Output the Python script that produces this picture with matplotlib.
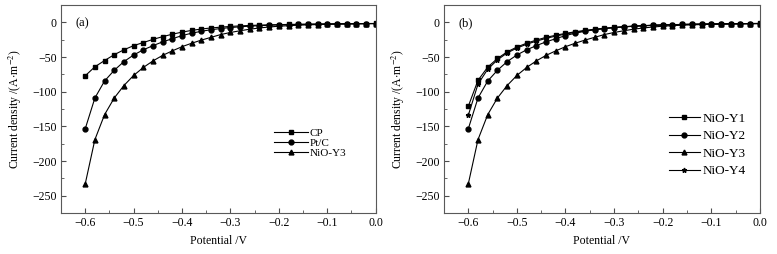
import numpy as np
import matplotlib.pyplot as plt

plt.rcParams['font.family'] = ['Liberation Serif', 'DejaVu Serif']
plt.rcParams['mathtext.fontset'] = 'stix'

# potential sweep, -0.60 V to 0.00 V in 0.02 V steps
potential = np.round(np.arange(-0.60, 0.001, 0.02), 2)

cp = [-77, -64, -55, -46.5, -39.5, -33.5, -29, -24.5, -20.5, -17, -14, -11.5,
      -9.5, -8, -6.8, -5.8, -5, -4.4, -3.9, -3.5, -3.2, -2.9, -2.7, -2.5,
      -2.3, -2.1, -2.0, -1.9, -1.8, -1.6, -1.5]
pt_c = [-153.5, -109, -84.5, -69, -56.5, -47, -39.5, -33.5, -28, -23.5, -19,
        -15.5, -12.8, -10.5, -8.8, -7.4, -6.3, -5.4, -4.7, -4.1, -3.6, -3.3,
        -3.0, -2.8, -2.6, -2.4, -2.2, -2.0, -1.9, -1.7, -1.6]
nio_y3 = [-233, -169, -133, -109, -91, -76.5, -65, -55.5, -47.5, -41, -35, -30,
          -25.5, -21.5, -17.5, -14.5, -12, -9.8, -8, -6.6, -5.5, -4.7, -4,
          -3.5, -3.1, -2.8, -2.5, -2.3, -2.1, -1.9, -1.7]
nio_y1 = [-121, -83.5, -64.5, -52, -42.5, -35.5, -30, -25.5, -21.5, -18.5,
          -15.8, -13.5, -11.5, -9.8, -8.4, -7.2, -6.2, -5.4, -4.7, -4.1, -3.6,
          -3.2, -2.9, -2.6, -2.4, -2.2, -2.0, -1.9, -1.8, -1.6, -1.5]
nio_y2 = pt_c
nio_y4 = [-134, -89, -67.5, -54, -44, -37, -31.5, -27, -23, -19.7, -16.8,
          -14.3, -12.2, -10.4, -8.9, -7.6, -6.5, -5.6, -4.9, -4.3, -3.8, -3.4,
          -3.0, -2.7, -2.5, -2.3, -2.1, -1.9, -1.8, -1.6, -1.5]

xticks = [-0.6, -0.5, -0.4, -0.3, -0.2, -0.1, 0.0]
yticks = [0, -50, -100, -150, -200, -250]


def style_axes(ax, tag):
    ax.set_xlim(-0.65, 0.0)
    ax.set_ylim(-275, 25)
    ax.set_xticks(xticks)
    ax.set_xticklabels(['\u22120.6', '\u22120.5', '\u22120.4', '\u22120.3',
                        '\u22120.2', '\u22120.1', '0.0'])
    ax.set_xticks(np.arange(-0.65, 0.0, 0.05), minor=True)
    ax.set_yticks(yticks)
    ax.set_yticklabels(['0', '\u221250', '\u2212100', '\u2212150',
                        '\u2212200', '\u2212250'])
    ax.set_yticks(np.arange(-275, 25, 25), minor=True)
    ax.tick_params(which='both', direction='in', labelsize=8.5,
                   color='0.3', pad=3)
    ax.tick_params(which='major', length=3.5)
    ax.tick_params(which='minor', length=2)
    for s in ax.spines.values():
        s.set_color('0.35')
        s.set_linewidth(0.8)
    ax.set_xlabel('Potential /V', fontsize=8.5, labelpad=4)
    ax.set_ylabel('Current density /(A$\\cdot$m$^{-2}$)', fontsize=8.5,
                  labelpad=6)
    ax.text(0.045, 0.9, tag, transform=ax.transAxes, fontsize=9)


line_kw = dict(color='black', linewidth=0.8, markersize=3.5)

fig = plt.figure(figsize=(7.77, 2.54), dpi=100)
ax1 = fig.add_axes([0.0785, 0.161, 0.405, 0.819])
ax2 = fig.add_axes([0.5714, 0.161, 0.4066, 0.819])

ax1.plot(potential, cp, marker='s', label='CP', **line_kw)
ax1.plot(potential, pt_c, marker='o', label='Pt/C', **line_kw)
ax1.plot(potential, nio_y3, marker='^', label='NiO-Y3', **line_kw)
style_axes(ax1, '(a)')
ax1.legend(loc='upper left', bbox_to_anchor=(0.66, 0.435), frameon=False,
           fontsize=8, handlelength=3.0, handletextpad=0.2,
           labelspacing=0.02, borderpad=0)

ax2.plot(potential, nio_y1, marker='s', label='NiO-Y1', **line_kw)
ax2.plot(potential, nio_y2, marker='o', label='NiO-Y2', **line_kw)
ax2.plot(potential, nio_y3, marker='^', label='NiO-Y3', **line_kw)
ax2.plot(potential, nio_y4, marker='*', label='NiO-Y4', **line_kw)
style_axes(ax2, '(b)')
ax2.legend(loc='upper left', bbox_to_anchor=(0.69, 0.515), frameon=False,
           fontsize=9.5, handlelength=2.35, handletextpad=0.25,
           labelspacing=0.4, borderpad=0)

fig.savefig('out.png', dpi=100)
